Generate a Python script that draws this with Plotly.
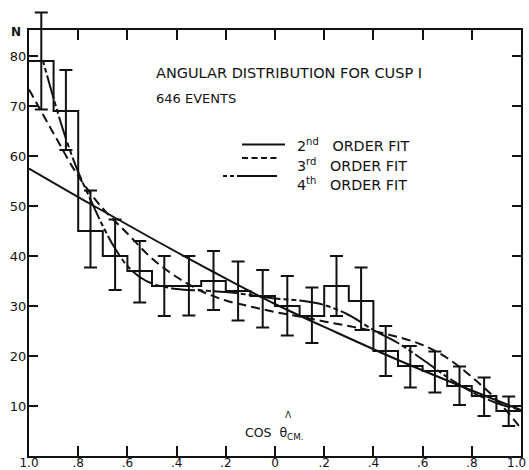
import plotly.graph_objects as go

# ---- data ----
bin_edges = [-1.0, -0.9, -0.8, -0.7, -0.6, -0.5, -0.4, -0.3, -0.2, -0.1, 0.0,
             0.1, 0.2, 0.3, 0.4, 0.5, 0.6, 0.7, 0.8, 0.9, 1.0]
counts = [79, 69, 45, 40, 37, 34, 34, 35, 33, 32, 30, 28, 34, 31, 21, 18, 17, 14, 12, 9]
err_top = [88.7, 77.2, 53.1, 47.3, 43.0, 40.0, 40.0, 41.0, 38.9, 37.2, 36.0, 33.7,
           40.0, 37.7, 26.0, 22.0, 20.9, 17.9, 15.7, 11.9]
err_bottom = [69.3, 61.2, 37.7, 33.2, 30.7, 28.0, 28.1, 29.2, 27.1, 25.7, 24.1, 22.6,
              28.0, 25.2, 16.0, 13.7, 12.7, 10.2, 8.0, 6.0]

fit2_x = [-1.0, -0.75, -0.5, -0.25, 0.0, 0.25, 0.5, 0.75, 1.0]
fit2_y = [57.5, 50.4, 43.5, 36.8, 30.4, 24.7, 19.2, 14.1, 9.2]

fit3_x = [-1.0, -0.9, -0.8, -0.7, -0.6, -0.5, -0.4, -0.3, -0.2, -0.1, 0.0,
          0.1, 0.2, 0.3, 0.4, 0.5, 0.6, 0.7, 0.8, 0.9, 1.0]
fit3_y = [73.3, 64.5, 56.0, 49.5, 44.5, 39.5, 35.8, 33.0, 31.1, 29.9, 28.8,
          27.9, 26.9, 26.0, 25.0, 23.8, 22.2, 19.6, 15.8, 11.3, 5.5]

fit4_x = [-0.944, -0.9, -0.85, -0.8, -0.75, -0.7, -0.65, -0.6, -0.55, -0.5, -0.4,
          -0.3, -0.2, -0.1, 0.0, 0.1, 0.2, 0.3, 0.4, 0.5, 0.6, 0.7, 0.8, 0.9, 1.0]
fit4_y = [79.2, 71.5, 63.5, 56.8, 51.3, 46.0, 41.5, 38.0, 35.8, 34.5, 33.4,
          33.1, 32.8, 32.2, 31.5, 31.1, 30.2, 28.2, 25.2, 22.6, 19.3, 15.8, 12.8, 10.6, 9.2]

x_tickvals = [-1.0, -0.8, -0.6, -0.4, -0.2, 0.0, 0.2, 0.4, 0.6, 0.8, 1.0]
x_ticktext = ["1.0", ".8", ".6", ".4", ".2", "0", ".2", ".4", ".6", ".8", "1.0"]
y_tickvals = [10, 20, 30, 40, 50, 60, 70, 80]
y_ticktext = ["10", "20", "30", "40", "50", "60", "70", "80"]

INK = "#111111"
FONT = "DejaVu Sans"

# geometry (pixels)
W, H = 529, 470
L, R, T, B = 29, 8, 8, 14          # outer margins; frame top sits lower (at 30 px)
FRAME_TOP = 30
Y_MAX = 85.2
plot_h = H - T - B
main_dom_top = (H - B - FRAME_TOP) / plot_h
y2_max = Y_MAX / main_dom_top

centers = [(bin_edges[i] + bin_edges[i + 1]) / 2 for i in range(len(counts))]
err_plus = [t - c for t, c in zip(err_top, counts)]
err_minus = [c - b for c, b in zip(counts, err_bottom)]

fig = go.Figure()

# histogram outline
fig.add_trace(go.Scatter(
    x=bin_edges, y=counts + [counts[-1]], mode="lines", line_shape="hv",
    line=dict(color=INK, width=2), hoverinfo="skip", showlegend=False))

# fits
fig.add_trace(go.Scatter(x=fit2_x, y=fit2_y, mode="lines", line_shape="spline",
                         line=dict(color=INK, width=2), showlegend=False))
fig.add_trace(go.Scatter(x=fit3_x, y=fit3_y, mode="lines", line_shape="spline",
                         line=dict(color=INK, width=2, dash="9px,5px"), showlegend=False))
fig.add_trace(go.Scatter(x=fit4_x, y=fit4_y, mode="lines", line_shape="spline",
                         line=dict(color=INK, width=2, dash="5px,3px,5px,3px,24px,3px"),
                         showlegend=False))

# error bars (in a taller, invisible overlay subplot with identical scale so they may rise above the frame)
fig.add_trace(go.Scatter(
    x=centers, y=counts, mode="markers", marker=dict(size=1, color="rgba(0,0,0,0)"),
    error_y=dict(type="data", array=err_plus, arrayminus=err_minus, symmetric=False,
                 color=INK, thickness=2, width=6.5),
    xaxis="x2", yaxis="y2", showlegend=False, hoverinfo="skip"))

# legend samples
def px2x(px):
    return (px - L) / ((W - L - R) / 2.0) - 1.0

def py2y(py):
    return (H - B - py) / ((H - B - FRAME_TOP) / Y_MAX)

fig.add_shape(type="line", x0=px2x(242), x1=px2x(285), y0=py2y(144.5), y1=py2y(144.5),
              line=dict(color=INK, width=2))
fig.add_shape(type="line", x0=px2x(242), x1=px2x(277), y0=py2y(158), y1=py2y(158),
              line=dict(color=INK, width=2, dash="6px,3.5px"))
fig.add_shape(type="line", x0=px2x(223), x1=px2x(277), y0=py2y(176), y1=py2y(176),
              line=dict(color=INK, width=2, dash="4px,3px,4px,3px,40px,10px"))

ann = []
def text(px, py, s, size=13, anchor="left", yanchor="middle"):
    ann.append(dict(x=px2x(px), y=py2y(py), xref="x", yref="y", text=s, showarrow=False,
                    xanchor=anchor, yanchor=yanchor, font=dict(family=FONT, size=size, color=INK)))

text(154, 73, "ANGULAR DISTRIBUTION FOR CUSP I", 14.5)
text(154, 98, "646 EVENTS", 13)
text(295, 145, "2<sup>nd</sup>&nbsp;&nbsp;&nbsp;ORDER FIT", 14.3)
text(295, 165, "3<sup>rd</sup>&nbsp;&nbsp;&nbsp;ORDER FIT", 14.3)
text(295, 184, "4<sup>th</sup>&nbsp;&nbsp;&nbsp;ORDER FIT", 14.3)
text(243, 433, "COS  θ<sub>CM.</sub>", 12.5)
text(288, 415, "Λ", 9, anchor="center")
ann.append(dict(x=(16 - L) / (W - L - R), y=(H - B - 32) / plot_h, xref="paper", yref="paper",
                text="<b>N</b>", showarrow=False, xanchor="center", yanchor="middle",
                font=dict(family=FONT, size=12, color=INK)))

# the last x tick label sits at the right edge of the page: draw it pulled inside
edge_label = x_ticktext[-1]
x_ticktext_axis = x_ticktext[:-1] + [""]
ann.append(dict(x=(528 - L) / (W - L - R), y=(H - B - 463) / plot_h, xref="paper", yref="paper",
                text=edge_label, showarrow=False, xanchor="right", yanchor="middle",
                font=dict(family=FONT, size=12, color=INK)))

axis_common = dict(ticks="inside", tickwidth=2, tickcolor=INK, showline=True, linewidth=2,
                   linecolor=INK, mirror="ticks", showgrid=False, zeroline=False,
                   automargin=False)

fig.update_layout(
    width=W, height=H, margin=dict(l=L, r=R, t=T, b=B),
    paper_bgcolor="white", plot_bgcolor="rgba(0,0,0,0)", showlegend=False,
    annotations=ann,
    xaxis=dict(range=[-1, 1], domain=[0, 1], tickvals=x_tickvals, ticktext=x_ticktext_axis,
               ticklen=10, ticklabeloverflow="allow", ticklabelstandoff=-5, anchor="y",
               tickfont=dict(family=FONT, size=12, color=INK), **axis_common),
    yaxis=dict(range=[0, Y_MAX], domain=[0, main_dom_top], tickvals=y_tickvals,
               ticktext=y_ticktext, ticklen=9, ticklabelstandoff=-2, anchor="x",
               tickfont=dict(family=FONT, size=13, color=INK), **axis_common),
    xaxis2=dict(range=[-1, 1], domain=[0, 1], visible=False, anchor="y2"),
    yaxis2=dict(range=[0, y2_max], domain=[0, 1], visible=False, anchor="x2"),
)

fig.write_html("out.html", config={"displayModeBar": False},
               post_script="document.body.style.margin='0';document.body.style.overflow='hidden';")
